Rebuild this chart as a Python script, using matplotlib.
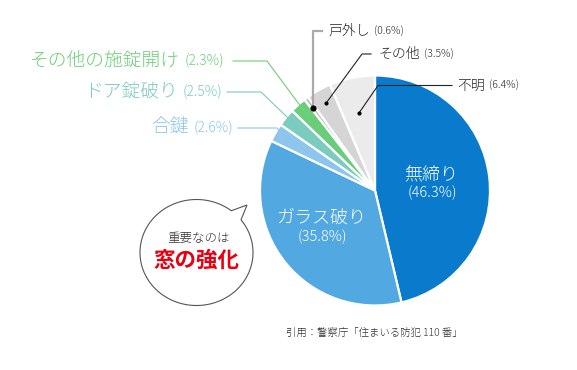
import numpy as np
import matplotlib
matplotlib.use("Agg")
import matplotlib.pyplot as plt
from matplotlib.patches import Polygon

plt.rcParams['font.family'] = ['Noto Sans CJK JP', 'DejaVu Sans']
plt.rcParams['font.weight'] = 'light'

# data
labels = ['無締り', 'ガラス破り', '合鍵', 'ドア錠破り', 'その他の施錠開け', '戸外し', 'その他', '不明']
values = [46.3, 35.8, 2.6, 2.5, 2.3, 0.6, 3.5, 6.4]
colors = ['#0a7bcc', '#52a8e0', '#8cc6ec', '#7bcbbf', '#6acd7a', '#bdbdbd', '#d5d5d5', '#ebebeb']
pct_text = ['(%.1f%%)' % v for v in values]

W, H = 577, 370
fig = plt.figure(figsize=(W / 100, H / 100), dpi=100)
ax = fig.add_axes([0, 0, 1, 1])


def Y(y):
    # pixel row (from top) -> data y
    return H - y


cx, cy, R = 375, 190.5, 115
ax.pie(values, colors=colors, startangle=90, counterclock=False,
       center=(cx, Y(cy)), radius=R,
       wedgeprops=dict(edgecolor='white', linewidth=1.6))
ax.set_xlim(0, W)
ax.set_ylim(0, H)
ax.set_aspect('equal')
ax.axis('off')

# wedge mid angles (clockwise from top)
cum = np.cumsum([0] + values[:-1])
mid = [(c + v / 2) / 100 * 360 for c, v in zip(cum, values)]


def wedge_point(i, frac):
    a = np.deg2rad(mid[i])
    return cx + R * frac * np.sin(a), Y(cy) + R * frac * np.cos(a)


# labels inside the pie
ax.text(431, Y(174), labels[0], color='white', fontsize=13, ha='center', va='center')
ax.text(432, Y(193), '(46.3%)', color='white', fontsize=10.5, ha='center', va='center')
ax.text(321, Y(218), labels[1], color='white', fontsize=13, ha='center', va='center')
ax.text(322, Y(237), '(35.8%)', color='white', fontsize=10.5, ha='center', va='center')

# left labels: (index, elbow, line end, text end, color)
left = [
    (2, (277, 128), (238, 128), 233, '#8cc5ea'),
    (3, (261, 92), (227, 92), 222, '#7ccabf'),
    (4, (267, 61), (233, 61), 224, '#6dcf79'),
]
for i, elbow, end, tx, col in left:
    px, py = wedge_point(i, 0.89)
    ax.plot([px, elbow[0], end[0]], [py, Y(elbow[1]), Y(end[1])], color=col, lw=0.8)
    ax.plot(px, py, 'o', color=col, ms=2.5, mec='none')
    p = ax.text(tx, Y(end[1]), pct_text[i], color=col, fontsize=10, ha='right', va='center')
    ax.annotate(labels[i], xy=(0, 0.5), xycoords=p, xytext=(-3, 0),
                textcoords='offset points', color=col, fontsize=13.5,
                ha='right', va='center')

# right labels: (index, radius frac, elbow, line end, text start, line color, lw, dot size)
right = [
    (5, 0.90, (313, 31), (322, 31), 328, '#aaaaaa', 1.6, 4.5),
    (6, 0.87, (362, 54), (371, 54), 378, '#222222', 0.8, 3),
    (7, 0.69, (378, 85.5), (452, 85.5), 457, '#222222', 0.8, 3),
]
for i, frac, elbow, end, tx, col, lw, ms in right:
    px, py = wedge_point(i, frac)
    if i == 5:
        elbow = (px, elbow[1])
    ax.plot([px, elbow[0], end[0]], [py, Y(elbow[1]), Y(end[1])], color=col, lw=lw)
    ax.plot(px, py, 'o', color='black', ms=ms, mec='none')
    t = ax.text(tx, Y(end[1]), labels[i], color='#222222', fontsize=10, ha='left', va='center')
    ax.annotate(pct_text[i], xy=(1, 0.5), xycoords=t, xytext=(3, 0),
                textcoords='offset points', color='#222222', fontsize=7.5,
                ha='left', va='center')

# speech bubble
bx, by, ba, bb = 196.5, 252.5, 56.5, 53
t = np.deg2rad(np.linspace(52, 360 + 38, 200))
pts = [(bx + ba * np.cos(a), Y(by) + bb * np.sin(a)) for a in t]
pts.append((247, Y(205)))
ax.add_patch(Polygon(pts, closed=True, facecolor='white', edgecolor='#555555', lw=0.8))
ax.text(198, Y(238), '重要なのは', color='#333333', fontsize=9, ha='center', va='center')
ax.text(196, Y(260), '窓の強化', color='#e60012', fontsize=15.5, fontweight='bold',
        ha='center', va='center')

# source
ax.text(286, Y(333), '引用：警察庁「住まいる防犯 110 番」', color='#333333',
        fontsize=7.5, ha='left', va='center')

fig.savefig('out.png', dpi=100)
